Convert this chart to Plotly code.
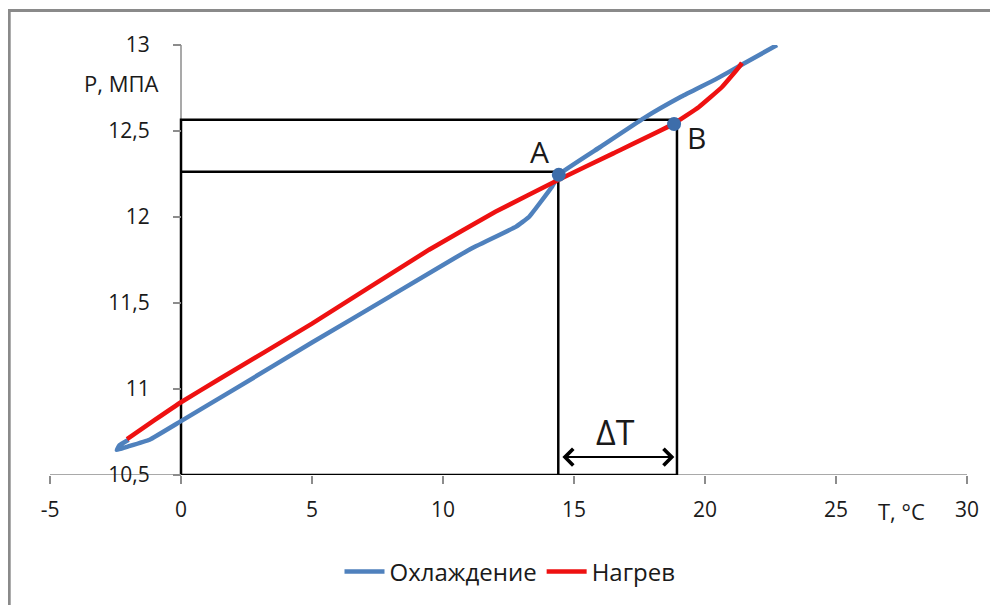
import plotly.graph_objects as go

# ---- data ----
cool_T = [22.75, 21.4, 20.4, 19.1, 17.67, 16.0, 14.45, 14.16, 13.28, 12.79, 11.0, 8.0, 5.0, 2.0, 0.0, -1.2, -2.1, -2.45, -2.35, -2.0]
cool_P = [13.0, 12.885, 12.8, 12.7, 12.575, 12.407, 12.25, 12.176, 12.0, 11.944, 11.81, 11.54, 11.27, 10.995, 10.813, 10.705, 10.662, 10.645, 10.672, 10.705]

heat_T = [-2.06, -1.0, 0.0, 1.45, 5.0, 9.47, 12.0, 14.45, 16.5, 18.74, 19.77, 20.65, 21.3, 21.41]
heat_P = [10.709, 10.82, 10.923, 11.057, 11.38, 11.81, 12.03, 12.22, 12.37, 12.536, 12.64, 12.756, 12.872, 12.896]

point_labels = ["A", "B"]
point_T = [14.42, 18.82]
point_P = [12.245, 12.54]

rect_outer_T = [0.0, 18.93]
rect_outer_P = [10.5, 12.565]
rect_inner_T = [0.0, 14.4]
rect_inner_P = [10.5, 12.263]

x_range = [-5, 30]
y_range = [10.5, 13]
x_ticks = [-5, 0, 5, 10, 15, 20, 25, 30]
x_tick_text = ["-5", "0", "5", "10", "15", "20", "25", "30"]
y_ticks = [10.5, 11, 11.5, 12, 12.5, 13]
y_tick_text = ["10,5", "11", "11,5", "12", "12,5", "13"]

series_names = ["Охлаждение", "Нагрев"]

FONT = "Open Sans"
BLUE = "#4F81BD"
RED = "#EE1111"
TXT = "#1a1a1a"
AXC = "#8c8c8c"

fig = go.Figure()
fig.add_trace(go.Scatter(x=cool_T, y=cool_P, mode="lines", name=series_names[0],
                         line=dict(color=BLUE, width=4.5, shape="spline", smoothing=0.3)))
fig.add_trace(go.Scatter(x=heat_T, y=heat_P, mode="lines", name=series_names[1],
                         line=dict(color=RED, width=4.5, shape="spline", smoothing=0.3)))
fig.add_trace(go.Scatter(x=point_T, y=point_P, mode="markers", showlegend=False,
                         marker=dict(color="#3D6DAA", size=14)))

# axis lines (gray) drawn as shapes so the black frame can sit on top of them
fig.add_shape(type="line", xref="x", yref="y", x0=x_range[0], x1=x_range[1],
              y0=y_range[0], y1=y_range[0], line=dict(color=AXC, width=1.5), layer="below")
fig.add_shape(type="line", xref="x", yref="y", x0=0, x1=0,
              y0=y_range[0], y1=y_range[1], line=dict(color=AXC, width=1.5), layer="below")

blk = dict(color="black", width=2.5)
fig.add_shape(type="rect", xref="x", yref="y", x0=rect_outer_T[0], x1=rect_outer_T[1],
              y0=rect_outer_P[0], y1=rect_outer_P[1], line=blk, layer="below")
fig.add_shape(type="line", xref="x", yref="y", x0=rect_inner_T[0], x1=rect_inner_T[1],
              y0=rect_inner_P[1], y1=rect_inner_P[1], line=blk, layer="below")
fig.add_shape(type="line", xref="x", yref="y", x0=rect_inner_T[1], x1=rect_inner_T[1],
              y0=rect_inner_P[0], y1=rect_inner_P[1], line=blk, layer="below")

# outer frame (gray)
fig.add_shape(type="rect", xref="paper", yref="paper", x0=-0.0445, x1=1.2, y0=-0.4, y1=1.080,
              line=dict(color="#8a8a8a", width=3), layer="below")

fig.add_annotation(x=13.70, y=12.379, text=point_labels[0], showarrow=False,
                   font=dict(family=FONT, size=30, color=TXT))
fig.add_annotation(x=19.66, y=12.46, text=point_labels[1], showarrow=False,
                   font=dict(family=FONT, size=30, color=TXT))
fig.add_annotation(x=16.6, y=10.75, text="ΔT", showarrow=False,
                   font=dict(family=FONT, size=34, color=TXT))
fig.add_annotation(x=rect_outer_T[1] - 0.1, y=10.604, ax=rect_inner_T[1] + 0.1, ay=10.604,
                   xref="x", yref="y", axref="x", ayref="y", text="", showarrow=True,
                   arrowhead=4, startarrowhead=4, arrowside="end+start", arrowwidth=2,
                   arrowsize=1.6, startarrowsize=1.6, arrowcolor="black", standoff=0, startstandoff=0)

fig.add_annotation(xref="paper", yref="paper", x=(121 - 50) / 917, y=(476 - 83) / 431,
                   xanchor="center", yanchor="middle",
                   text="P, МПА", showarrow=False, font=dict(family=FONT, size=22, color=TXT))
fig.add_annotation(xref="paper", yref="paper", x=(901 - 50) / 917, y=(476 - 512) / 431,
                   xanchor="center", yanchor="middle",
                   text="T, °C", showarrow=False, font=dict(family=FONT, size=22, color=TXT))

fig.update_layout(
    width=990, height=597,
    margin=dict(l=42, r=31, t=37, b=129),
    paper_bgcolor="white", plot_bgcolor="white",
    font=dict(family=FONT, size=21, color=TXT),
    showlegend=True,
    legend=dict(orientation="h", xanchor="center", yanchor="middle",
                x=(510 - 50) / 917, y=(476 - 572) / 431,
                font=dict(family=FONT, size=24, color=TXT), itemwidth=40),
    xaxis=dict(range=x_range, tickvals=x_ticks, ticktext=x_tick_text, showgrid=False,
               zeroline=False, showline=False,
               ticks="outside", ticklen=8, tickcolor=AXC, tickwidth=1.5,
               tickfont=dict(family=FONT, size=21, color=TXT), anchor="y",
               ticklabelstandoff=8),
    yaxis=dict(range=y_range, tickvals=y_ticks, ticktext=y_tick_text, showgrid=False,
               zeroline=False, showline=False,
               ticks="outside", ticklen=8, tickcolor=AXC, tickwidth=1.5,
               tickfont=dict(family=FONT, size=21, color=TXT),
               anchor="free", position=5 / 35, ticklabelstandoff=19),
)

fig.write_html("out.html")
